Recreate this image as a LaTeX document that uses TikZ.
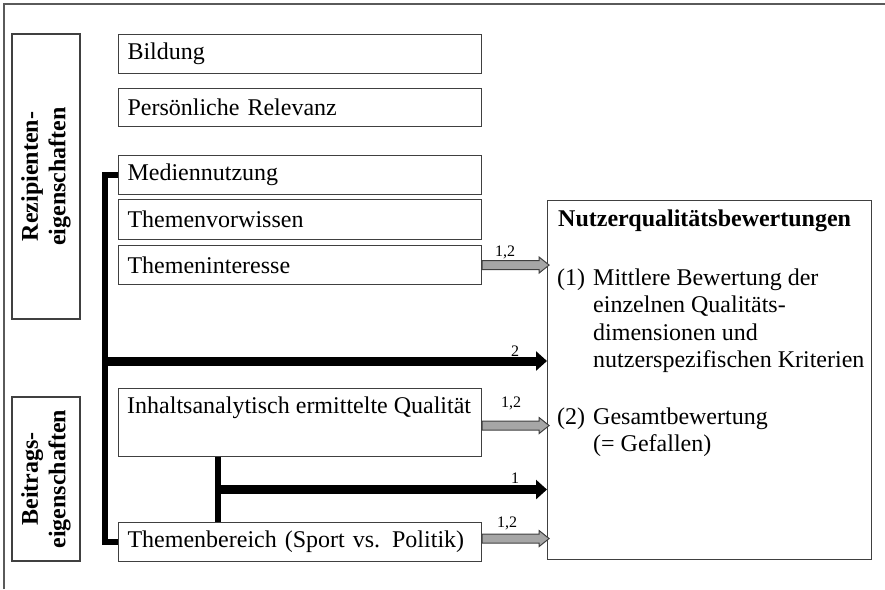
\documentclass[tikz,border=0pt]{standalone}
\usepackage{fontspec}
\setmainfont{Liberation Serif}
\usetikzlibrary{arrows.meta,calc}
\definecolor{linegray}{HTML}{404040}
\definecolor{fillgray}{HTML}{A6A6A6}
\definecolor{framegray}{HTML}{5A5A5A}
\newcommand{\mainsize}{\fontsize{24}{27.5}\selectfont}
\newcommand{\smallsize}{\fontsize{16}{18}\selectfont}
\newcommand{\blockarrow}[1]{\draw[grayarrow] (#1) ++(0,4.5) -- ++(57,0) -- ++(0,3.5) -- ++(10,-8) -- ++(-10,-8) -- ++(0,3.5) -- ++(-57,0) -- cycle;}
\begin{document}
\begin{tikzpicture}[x=1pt,y=-1pt,
  box/.style={draw=linegray, line width=1.1pt, anchor=north west, minimum width=363pt, minimum height=39pt, inner xsep=9pt, inner ysep=2pt, text width=345pt, align=left, font=\mainsize},
  catbox/.style={draw=linegray, line width=1.1pt, rotate=90, minimum height=68pt, align=center, font=\mainsize\bfseries, inner sep=0pt},
  thickline/.style={draw=black, line width=6pt, line join=miter},
  blackarrow/.style={draw=black, line width=9pt, -{Triangle[length=11pt,width=19pt]}},
  grayarrow/.style={draw=linegray, fill=fillgray, line width=1pt, line join=miter},
  numlabel/.style={font=\smallsize, inner sep=0pt}]
\useasboundingbox (0,0) rectangle (885,589);
\draw[framegray, line width=1.5pt] (4,589) -- (4,4) -- (885,4);

% category boxes
\node[catbox, minimum width=285pt] (rez) at (46,176.5) {Rezipienten-\\eigenschaften};
\node[catbox, minimum width=164pt] (bei) at (46,479) {Beitrags-\\eigenschaften};

% variable boxes
\node[box] (bild) at (118,34) {Bildung};
\node[box, minimum height=38pt] (pers) at (118,88) {Persönliche Relevanz};
\node[box] (medi) at (118,155) {Mediennutzung};
\node[box, minimum height=40pt] (vorw) at (118,199) {Themenvorwissen};
\node[box] (inte) at (118,245) {Themeninteresse};
\node[box, minimum height=68pt] (inh) at (118,388) {};
\node[anchor=base west, inner sep=0pt, font=\mainsize] (inhtext) at ($(inh.north west)+(9,25)$) {Inhaltsanalytisch ermittelte Qualität};
\node[box] (ber) at (118,522) {Themenbereich (Sport vs. Politik)};

% outcome box
\node[draw=linegray, line width=1.1pt, anchor=north west, minimum width=324pt, minimum height=359pt, inner sep=0pt] (nutz) at (547,200) {};
\node[anchor=base west, inner sep=0pt, font=\mainsize\bfseries] (head) at (558,226) {Nutzerqualitätsbewertungen};
\node[anchor=base west, inner sep=0pt, font=\mainsize] (items) at (557,285) {\begin{tabular}[t]{@{}p{36pt}@{}l@{}}
(1) & Mittlere Bewertung der\\
    & einzelnen Qualitäts-\\
    & dimensionen und\\
    & nutzerspezifischen Kriterien\\[29pt]
(2) & Gesamtbewertung\\
    & (= Gefallen)
\end{tabular}};

% thick connectors
\draw[thickline] (medi.west) -- ++(-13,0) |- (ber.west);
\coordinate (j1) at (105,361);
\draw[blackarrow] (j1) -- (j1 -| nutz.west);
\path (inh.south west) ++(100,0) coordinate (v2t);
\path (ber.north west) ++(100,0) coordinate (v2b);
\draw[thickline] (v2t) -- (v2b);
\coordinate (j2) at ($(v2t)!0.5!(v2b)$);
\draw[blackarrow] (j2) -- (j2 -| nutz.west);

% gray block arrows
\path (inte.east) coordinate (a1);
\path (inh.east) ++(0,3) coordinate (a2);
\path (ber.east) ++(0,-3.5) coordinate (a3);
\blockarrow{a1}
\blockarrow{a2}
\blockarrow{a3}

% labels
\node[numlabel] (l1) at (505,252) {1,2};
\node[numlabel] (l2) at (515,351) {2};
\node[numlabel] (l3) at (511,403) {1,2};
\node[numlabel] (l4) at (515,478) {1};
\node[numlabel] (l5) at (507,523) {1,2};
\end{tikzpicture}
\end{document}
